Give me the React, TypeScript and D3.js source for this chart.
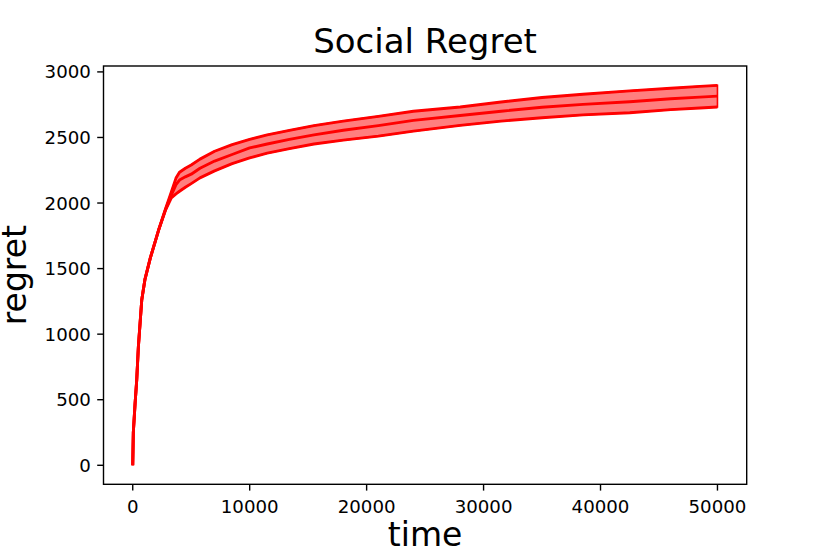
import React from "react";
import * as d3 from "d3";

const times = [0, 50, 200, 340, 480, 770, 1050, 1500, 2200, 2800, 3300, 3700, 4000, 4500, 5000, 5750, 7000, 8500, 10000, 11500, 13400, 15500, 18000, 21000, 24000, 28000, 31500, 35000, 38500, 42500, 46000, 48500, 50000];
const meanRegret = [0, 250, 470, 650, 900, 1260, 1420, 1580, 1790, 1950, 2060, 2140, 2175, 2200, 2220, 2265, 2320, 2370, 2420, 2450, 2485, 2520, 2555, 2590, 2630, 2668, 2700, 2730, 2752, 2772, 2795, 2808, 2815];
const upperRegret = [0, 250, 470, 650, 900, 1260, 1420, 1580, 1790, 1955, 2085, 2190, 2235, 2265, 2290, 2335, 2395, 2445, 2486, 2520, 2554, 2590, 2625, 2661, 2700, 2732, 2770, 2805, 2830, 2855, 2875, 2890, 2897];
const lowerRegret = [0, 250, 470, 650, 900, 1260, 1420, 1580, 1790, 1945, 2040, 2070, 2090, 2120, 2148, 2192, 2245, 2300, 2345, 2380, 2415, 2450, 2480, 2510, 2548, 2592, 2625, 2650, 2672, 2689, 2712, 2725, 2732];
const xTicks = [0, 10000, 20000, 30000, 40000, 50000];
const yTicks = [0, 500, 1000, 1500, 2000, 2500, 3000];

const W = 830;
const H = 554;
const left = 103.5;
const right = 746.7;
const top = 66;
const bottom = 484.3;
const FONT = "DejaVu Sans, sans-serif";

export default function App() {
  const x = d3.scaleLinear().domain([-2500, 52500]).range([left, right]);
  const y = d3.scaleLinear().domain([-145, 3045]).range([bottom, top]);

  const idx = times.map((_, i) => i);
  const area = d3
    .area<number>()
    .x((i) => x(times[i]))
    .y0((i) => y(lowerRegret[i]))
    .y1((i) => y(upperRegret[i]));
  const line = (arr: number[]) =>
    d3
      .line<number>()
      .x((i) => x(times[i]))
      .y((i) => y(arr[i]))(idx) as string;

  return (
    <svg
      width={W}
      height={H}
      style={{ position: "absolute", left: 0, top: 0, background: "#fff" }}
      fontFamily={FONT}
    >
      <defs>
        <clipPath id="plotclip">
          <rect x={left} y={top} width={right - left} height={bottom - top} />
        </clipPath>
      </defs>
      <g clipPath="url(#plotclip)">
        <path d={area(idx) as string} fill="rgba(255,0,0,0.5)" stroke="#ff0000" strokeWidth={1.6} />
        <path d={line(upperRegret)} fill="none" stroke="#ff0000" strokeWidth={2.9} strokeLinejoin="round" />
        <path d={line(lowerRegret)} fill="none" stroke="#ff0000" strokeWidth={2.9} strokeLinejoin="round" />
        <path d={line(meanRegret)} fill="none" stroke="#ff0000" strokeWidth={2.9} strokeLinejoin="round" />
      </g>
      <rect x={left} y={top} width={right - left} height={bottom - top} fill="none" stroke="#000" strokeWidth={1.4} />
      {xTicks.map((t) => (
        <g key={"x" + t}>
          <line x1={x(t)} x2={x(t)} y1={bottom} y2={bottom + 6.3} stroke="#000" strokeWidth={1.4} />
          <text x={x(t)} y={513.3} textAnchor="middle" fontSize={18.2} fill="#000">
            {t}
          </text>
        </g>
      ))}
      {yTicks.map((t) => (
        <g key={"y" + t}>
          <line x1={left - 6.3} x2={left} y1={y(t)} y2={y(t)} stroke="#000" strokeWidth={1.4} />
          <text x={left - 12.6} y={y(t)} dy="0.36em" textAnchor="end" fontSize={18.2} fill="#000">
            {t}
          </text>
        </g>
      ))}
      <text x={(left + right) / 2} y={53} textAnchor="middle" fontSize={34} fill="#000">
        Social Regret
      </text>
      <text x={(left + right) / 2} y={546} textAnchor="middle" fontSize={33} fill="#000">
        time
      </text>
      <text
        transform={`translate(26, ${(top + bottom) / 2}) rotate(-90)`}
        textAnchor="middle"
        fontSize={33}
        fill="#000"
      >
        regret
      </text>
    </svg>
  );
}
